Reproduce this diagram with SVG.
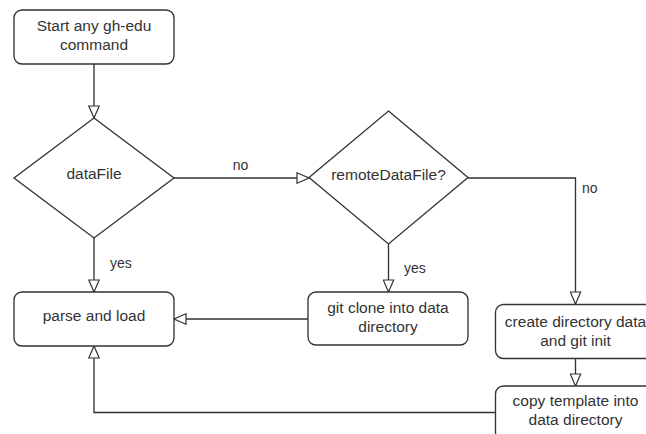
<svg xmlns="http://www.w3.org/2000/svg" width="646" height="434" viewBox="0 0 646 434">
<defs>
<style>
.box{fill:#fff;stroke:#333;stroke-width:1.33}
.edge{fill:none;stroke:#333;stroke-width:1.33}
.t{font-family:"Liberation Sans",Arial,sans-serif;font-size:15.5px;fill:#333;text-anchor:middle}
.lbl{font-family:"Liberation Sans",Arial,sans-serif;font-size:14px;fill:#333}
</style>
<marker id="arr" viewBox="0 0 14 12" markerWidth="14" markerHeight="12" refX="13" refY="6" orient="auto" markerUnits="userSpaceOnUse">
<path d="M1,0.8 L13,6 L1,11.2 Z" fill="#fff" stroke="#333" stroke-width="1.2"/>
</marker>
</defs>
<rect width="646" height="434" fill="#fff"/>
<g id="connectors">
<path class="edge" d="M94,64 V118" marker-end="url(#arr)"/>
<path class="edge" d="M174,178 H309" marker-end="url(#arr)"/>
<path class="edge" d="M94,238 V292" marker-end="url(#arr)"/>
<path class="edge" d="M388.5,244 V292" marker-end="url(#arr)"/>
<path class="edge" d="M308,319 H174" marker-end="url(#arr)"/>
<path class="edge" d="M468,178 H575.5 V304" marker-end="url(#arr)"/>
<path class="edge" d="M575.5,358 V386" marker-end="url(#arr)"/>
<path class="edge" d="M495,412.5 H94 V346" marker-end="url(#arr)"/>
<text class="lbl" x="240.5" y="170" text-anchor="middle">no</text>
<text class="lbl" x="110" y="268">yes</text>
<text class="lbl" x="404" y="273">yes</text>
<text class="lbl" x="582" y="193">no</text>
</g>
<g id="start">
<rect class="box" x="14" y="10" width="160" height="54" rx="8"/>
<text class="t" x="94" y="31">Start any gh-edu</text>
<text class="t" x="94" y="50">command</text>
</g>
<g id="dataFile">
<path class="box" d="M94,118 L174,178 L94,238 L14,178 Z"/>
<text class="t" x="94" y="179">dataFile</text>
</g>
<g id="remoteDataFile">
<path class="box" d="M388.5,111 L468,177.5 L388.5,244 L309,177.5 Z"/>
<text class="t" x="388.5" y="180">remoteDataFile?</text>
</g>
<g id="parseLoad">
<rect class="box" x="14" y="292" width="160" height="54" rx="8"/>
<text class="t" x="94" y="321">parse and load</text>
</g>
<g id="gitClone">
<rect class="box" x="308" y="292" width="160" height="53" rx="8"/>
<text class="t" x="388" y="312.5">git clone into data</text>
<text class="t" x="388" y="331.5">directory</text>
</g>
<g id="createDir">
<rect class="box" x="495.5" y="304.5" width="160" height="54" rx="8"/>
<text class="t" x="575.5" y="327">create directory data</text>
<text class="t" x="575.5" y="346">and git init</text>
</g>
<g id="copyTemplate">
<rect class="box" x="495.5" y="386" width="160" height="54" rx="8"/>
<text class="t" x="575.5" y="406">copy template into</text>
<text class="t" x="575.5" y="425">data directory</text>
</g>
</svg>
